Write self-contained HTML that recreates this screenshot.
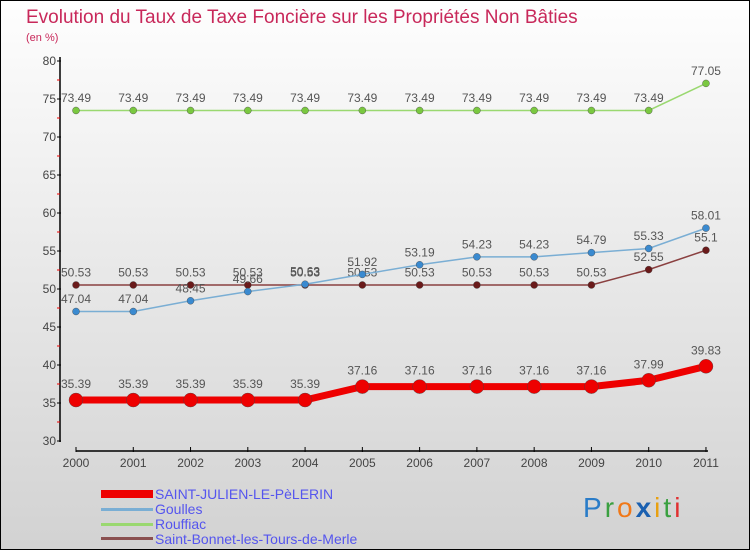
<!DOCTYPE html>
<html><head><meta charset="utf-8"><style>
body{margin:0}
#c{width:748px;height:548px;border:1px solid #000;position:relative;background:linear-gradient(#fefefe,#d2d2d2);font-family:"Liberation Sans",sans-serif;overflow:hidden}
</style></head><body>
<div id="c">
<svg width="748" height="548" id="s">
<text x="25" y="22" font-size="19" fill="#c8285a">Evolution du Taux de Taxe Foncière sur les Propriétés Non Bâties</text>
<text x="25" y="40" font-size="11" fill="#c8285a">(en %)</text>
<g id="g"></g>
<g font-size="14" fill="#5555ee">
<rect x="100" y="489" width="52" height="8" fill="#e00"/>
<text x="154" y="498">SAINT-JULIEN-LE-PèLERIN</text>
<rect x="100" y="507" width="52" height="3" fill="#7aaed4"/>
<text x="154" y="513">Goulles</text>
<rect x="100" y="522" width="52" height="3" fill="#9ad870"/>
<text x="154" y="528">Rouffiac</text>
<rect x="100" y="536" width="52" height="3" fill="#8a5050"/>
<text x="154" y="543">Saint-Bonnet-les-Tours-de-Merle</text>
</g>
<text x="582" y="516" font-size="28" letter-spacing="3"><tspan fill="#2a7cc8">P</tspan><tspan fill="#3aa040">r</tspan><tspan fill="#f07818">o</tspan><tspan fill="#1a60b0" font-weight="bold">x</tspan><tspan fill="#e8a010">i</tspan><tspan fill="#3aa040">t</tspan><tspan fill="#e03030">i</tspan></text>
</svg></div>
<script>
const years=["2000","2001","2002","2003","2004","2005","2006","2007","2008","2009","2010","2011"];
const yTicks=[30,35,40,45,50,55,60,65,70,75,80];
const stJulien=[35.39,35.39,35.39,35.39,35.39,37.16,37.16,37.16,37.16,37.16,37.99,39.83];
const goulles=[47.04,47.04,48.45,49.66,50.63,51.92,53.19,54.23,54.23,54.79,55.33,58.01];
const rouffiac=[73.49,73.49,73.49,73.49,73.49,73.49,73.49,73.49,73.49,73.49,73.49,77.05];
const stBonnet=[50.53,50.53,50.53,50.53,50.53,50.53,50.53,50.53,50.53,50.53,52.55,55.1];
const NS="http://www.w3.org/2000/svg";
const g=document.getElementById('g');
const X=i=>75+i*57.27, Y=v=>440-(v-30)*7.6;
function mk(t,a){const e=document.createElementNS(NS,t);for(const k in a)e.setAttribute(k,a[k]);g.appendChild(e);return e;}
let e=mk('line',{x1:59,y1:56,x2:59,y2:441,stroke:'#000','stroke-width':1.5});


e=mk('line',{x1:75,y1:450,x2:707,y2:450,stroke:'#000','stroke-width':1.5});


yTicks.forEach((v,i)=>{
 mk('line',{x1:56,y1:Y(v),x2:60,y2:Y(v),stroke:'#000'});
 if(i<yTicks.length-1)mk('line',{x1:56,y1:Y(v+2.5),x2:59,y2:Y(v+2.5),stroke:'#e00'});
 const t=mk('text',{x:55,y:Y(v)+4,'font-size':12,fill:'#444','text-anchor':'end'});t.textContent=v;
 
 
});
years.forEach((y,i)=>{
 mk('line',{x1:X(i),y1:446,x2:X(i),y2:451,stroke:'#000'});
 const t=mk('text',{x:X(i),y:466,'font-size':12,fill:'#444','text-anchor':'middle'});t.textContent=y;
 
 
});
function series(vals,col,dot,w,r,name){
 const p=mk('polyline',{points:vals.map((v,i)=>X(i)+','+Y(v)).join(' '),fill:'none',stroke:col,'stroke-width':w});
 
 
 vals.forEach((v,i)=>{
  const c=mk('circle',{cx:X(i),cy:Y(v),r:r,fill:dot,stroke:'#444','stroke-width':0.4});
  
  
  const t=mk('text',{x:X(i),y:Y(v)-(r+5),'font-size':12,fill:'#555','text-anchor':'middle'});t.textContent=v;
  
  
 });
}
series(rouffiac,'#9ad870','#7ac840',1.5,3.5,'rouffiac');
series(stBonnet,'#8a4040','#6a1a1a',1.5,3.5,'saint-bonnet');
series(goulles,'#7aaed4','#3a8ad0',1.5,3.5,'goulles');
series(stJulien,'#e00','#e00',7,7,'saint-julien');
</script>
</body></html>
